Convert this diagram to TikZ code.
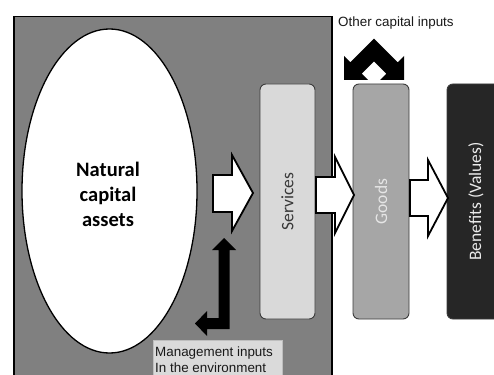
\documentclass[tikz,border=0pt]{standalone}
\usepackage{fontspec}
\setmainfont{Carlito}
\newfontfamily\arialf{Liberation Sans}
\usetikzlibrary{shapes.geometric}
\definecolor{panelgrey}{RGB}{128,128,128}
\definecolor{servfill}{RGB}{217,217,217}
\definecolor{goodsfill}{RGB}{166,166,166}
\definecolor{benefill}{RGB}{38,38,38}
\definecolor{boxedge}{RGB}{60,60,60}
\definecolor{labfill}{RGB}{218,218,218}
\definecolor{labedge}{RGB}{190,190,190}
\begin{document}
\begin{tikzpicture}[x=1pt,y=-1pt,
  bigpanel/.style={draw=black, line width=1.5pt, fill=panelgrey, inner sep=0pt},
  assetshape/.style={ellipse, draw=black, line width=1.3pt, fill=white, inner sep=0pt},
  stagebox/.style={draw=boxedge, line width=0.9pt, rounded corners=6pt, inner sep=0pt,
     minimum height=235pt},
  stagetext/.style={rotate=90, inner sep=0pt, font=\fontsize{17.5}{20}\selectfont},
  fatarrow/.style={draw=black, fill=white, line width=1.8pt, line join=miter},
  blackarrow/.style={fill=black},
  smalllabel/.style={font=\arialf\fontsize{13.4}{15.5}\selectfont, inner sep=0pt, text=black!90},
  labelbox/.style={draw=labedge, line width=0.6pt, fill=labfill, inner sep=0pt}
]
\clip (0,0) rectangle (494,374);
\fill[white] (0,0) rectangle (494,374);

% big panel
\node[bigpanel, anchor=north west, minimum width=318pt, minimum height=400pt] (panel) at (13,16) {};

% natural capital ellipse
\node[assetshape, minimum width=175pt, minimum height=324pt] (assets) at (109.5,191) {};
\node[inner sep=0pt, align=center, font=\bfseries\fontsize{20.5}{25}\selectfont] (assetstxt) at (108,194.5) {Natural\\capital\\assets};

% stage boxes
\node[stagebox, fill=servfill, minimum width=55pt] (services) at (287.5,201.5) {};
\node[stagetext, text=black!78] (servicestxt) at (services.center) {Services};
\node[stagebox, fill=goodsfill, minimum width=56pt] (goods) at (381,201.5) {};
\node[stagetext, text=white!90!black] (goodstxt) at (goods.center) {Goods};
\node[stagebox, fill=benefill, minimum width=58pt] (benefits) at (476,201.5) {};
\node[stagetext, text=white!92!black] (benefitstxt) at (benefits.center) {Benefits (Values)};

% white block arrows
\draw[fatarrow] (213,175) -- (232,175) -- (232,155) -- (253,193) -- (232,231) -- (232,212) -- (213,212) -- cycle;
\draw[fatarrow] (316,177) -- (335,177) -- (335,157) -- (354,195) -- (335,233) -- (335,213) -- (316,213) -- cycle;
\draw[fatarrow] (410,180) -- (428,180) -- (428,160) -- (448,198) -- (428,236) -- (428,216) -- (410,216) -- cycle;

% management inputs bent arrow
\fill[blackarrow] (224,238) -- (236,250) -- (229.5,250) -- (229.5,329) -- (207,329) -- (207,336)
   -- (195,323.5) -- (207,311) -- (207,318) -- (218.5,318) -- (218.5,250) -- (212,250) -- cycle;

% other capital inputs chevron arrow
\fill[blackarrow] (344,80) -- (344,56) -- (350.3,62.3) -- (374,38.6) -- (397.7,62.3) -- (404,56)
   -- (404,80) -- (380,80) -- (386.3,73.7) -- (374,61.4) -- (361.7,73.7) -- (368,80) -- cycle;

% labels
\node[smalllabel, anchor=base west] (othertxt) at (338,26.8) {Other capital inputs};
\node[labelbox, anchor=north west, minimum width=129pt, minimum height=45pt] (mgmtbox) at (152.5,340) {};
\node[smalllabel, anchor=base west] (mgmtone) at (155,356.5) {Management inputs};
\node[smalllabel, anchor=base west] (mgmttwo) at (155,372) {In the environment};
\end{tikzpicture}
\end{document}
